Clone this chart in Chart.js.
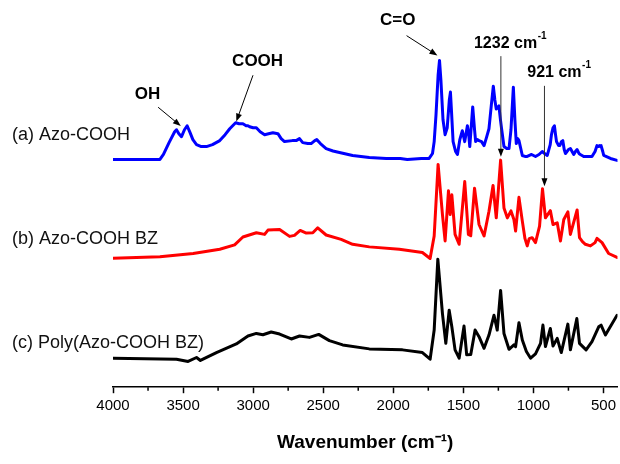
<!DOCTYPE html>
<html>
<head>
<meta charset="utf-8">
<script src="https://cdn.jsdelivr.net/npm/chart.js@4.4.1/dist/chart.umd.min.js"></script>
<style>
  html, body { margin: 0; padding: 0; background: #fff; }
</style>
</head>
<body>
<canvas id="ftir" width="620" height="464"></canvas>
<script>
// x axis ticks (cm-1)
const majorTicks = [4000, 3500, 3000, 2500, 2000, 1500, 1000, 500]
const minorTicks = [3750, 3250, 2750, 2250, 1750, 1250, 750]

// trace labels
const traceNames = ['(a) Azo-COOH', '(b) Azo-COOH BZ', '(c) Poly(Azo-COOH BZ)']

// (a) Azo-COOH, offset intensity (a.u.)
const waveA = [4000, 3800, 3665, 3640, 3600, 3560, 3547, 3530, 3511, 3490, 3471, 3450, 3430, 3404, 3370, 3333, 3290, 3238, 3200, 3167,
  3125, 3100, 3073, 3050, 3037, 3025, 3000, 2977, 2950, 2918, 2890, 2859, 2823, 2800, 2776, 2720, 2693, 2669, 2646, 2610,
  2586, 2560, 2546, 2520, 2479, 2430, 2384, 2290, 2171, 2050, 1950, 1900, 1800, 1744, 1720, 1708, 1695, 1680, 1670, 1660,
  1645, 1630, 1615, 1600, 1592, 1585, 1573, 1555, 1542, 1525, 1507, 1490, 1471, 1462, 1454, 1433, 1420, 1412, 1400, 1388,
  1370, 1352, 1335, 1317, 1300, 1286, 1275, 1265, 1246, 1235, 1227, 1210, 1190, 1174, 1160, 1143, 1132, 1122, 1112, 1103,
  1079, 1060, 1044, 1013, 985, 960, 937, 920, 901, 880, 871, 860, 850, 842, 835, 820, 811, 800, 790, 780,
  771, 750, 736, 720, 712, 700, 688, 675, 665, 641, 582, 560, 546, 537, 529, 522, 517, 505, 498, 450, 403]
const azoA = [230, 230, 230, 235, 247, 258, 260, 256, 253, 260, 264, 257, 250, 245, 243, 243, 245, 249, 255, 261,
  267, 266, 266, 264, 264, 263, 262, 262, 258, 255, 256, 257, 256, 251, 248, 249, 249, 251, 247, 246,
  246, 249, 250, 246, 241, 238.5, 237, 234, 232, 231, 231, 230, 231, 231, 236, 248, 275, 315, 330, 310,
  270, 255, 262, 290, 298, 280, 248, 238, 235, 250, 259, 248, 264, 256, 243, 283, 260, 248, 250, 249,
  248, 244, 252, 261, 285, 304, 290, 281, 284, 270, 261, 243, 241, 241, 260, 303, 270, 246, 251, 249,
  234, 233, 233, 235, 233, 235, 238, 236, 234, 245, 255, 262, 264, 255, 248, 244, 244, 248, 249, 240,
  236, 240, 241, 237, 235, 238, 240, 236, 235, 233, 233, 238, 244, 243, 244, 243, 244, 238, 234, 231, 229]

// (b) Azo-COOH BZ
const waveB = [4000, 3665, 3428, 3238, 3132, 3073, 2977, 2918, 2894, 2811, 2740, 2705, 2664, 2621, 2574, 2539, 2479, 2372, 2290, 2171,
  1957, 1792, 1737, 1708, 1680, 1649, 1630, 1606, 1594, 1582, 1559, 1530, 1490, 1464, 1447, 1420, 1388, 1352, 1317, 1288,
  1265, 1234, 1210, 1186, 1160, 1139, 1127, 1103, 1079, 1060, 1044, 1030, 1009, 985, 956, 935, 914, 879, 860, 830,
  807, 783, 754, 736, 688, 671, 650, 629, 593, 560, 546, 510, 463, 403]
const azoB = [130.3, 131.7, 135, 139.3, 143.7, 151.7, 156, 154.3, 158.7, 159.3, 152.3, 153.3, 158.3, 155.7, 156, 161, 153.7, 149.3, 144.3, 141.7,
  139.3, 136, 130, 152.7, 225, 174.3, 147.7, 198.3, 174.3, 194.3, 154.3, 144.3, 207.7, 154.3, 153, 201, 164.3, 152.7, 177.7, 203.7,
  171, 229.3, 181, 171, 178, 169.3, 157.7, 191.7, 167.7, 150, 142.7, 150, 151, 146, 162.7, 200.3, 171, 178.3, 164.3, 166,
  147.7, 169.3, 177, 154.3, 179, 151, 147, 144.3, 142.7, 146, 150.3, 146, 135, 131]

// (c) Poly(Azo-COOH BZ)
const waveC = [4000, 3547, 3464, 3404, 3376, 3262, 3120, 3037, 2977, 2930, 2871, 2811, 2728, 2669, 2598, 2532, 2456, 2361, 2171, 1934,
  1792, 1737, 1708, 1682, 1649, 1625, 1601, 1582, 1559, 1530, 1495, 1476, 1447, 1416, 1388, 1352, 1317, 1281, 1258, 1234,
  1210, 1174, 1139, 1127, 1103, 1079, 1050, 1020, 985, 949, 932, 914, 879, 860, 830, 801, 754, 736, 690, 671,
  624, 582, 534, 517, 486, 403]
const polyC = [29.3, 28.3, 26, 30, 27, 35, 43.7, 51.7, 54.3, 53, 55.7, 53.7, 48.7, 51.7, 50.3, 53.3, 47, 42.7, 38.7, 37.7,
  35, 28.3, 57.7, 129.3, 74.3, 44.3, 77.7, 61, 37.7, 29.3, 61.7, 32.7, 33, 57.7, 51, 39.3, 52.7, 72.7, 57.7, 97.7,
  54.3, 38.3, 42.7, 41, 65, 47.7, 36, 29.3, 33.7, 44.3, 62.7, 41, 59.3, 41.7, 49.3, 35, 63.7, 37.7, 69.3, 44.3,
  37.7, 46, 61, 62.7, 52.7, 72.7]

const FONT = '"Liberation Sans", Arial, sans-serif'
const toPoints = (w, v) => w.map((x, i) => ({ x, y: v[i] }))

function arrow (ctx, x1, y1, x2, y2) {
  const a = Math.atan2(y2 - y1, x2 - x1)
  const len = 8
  const hw = 3
  ctx.beginPath()
  ctx.moveTo(x1, y1)
  ctx.lineTo(x2 - Math.cos(a) * len * 0.8, y2 - Math.sin(a) * len * 0.8)
  ctx.stroke()
  ctx.beginPath()
  ctx.moveTo(x2, y2)
  ctx.lineTo(x2 - Math.cos(a) * len - Math.sin(a) * hw, y2 - Math.sin(a) * len + Math.cos(a) * hw)
  ctx.lineTo(x2 - Math.cos(a) * len + Math.sin(a) * hw, y2 - Math.sin(a) * len - Math.cos(a) * hw)
  ctx.closePath()
  ctx.fill()
}

// text with a "-1" superscript after it, centred on (cx, cy)
function supText (ctx, main, sup, cx, cy) {
  ctx.font = 'bold 16px ' + FONT
  const w1 = ctx.measureText(main).width
  ctx.font = 'bold 10px ' + FONT
  const w2 = ctx.measureText(sup).width
  const left = cx - (w1 + w2) / 2
  ctx.textAlign = 'left'
  ctx.textBaseline = 'middle'
  ctx.font = 'bold 16px ' + FONT
  ctx.fillText(main, left, cy)
  ctx.font = 'bold 10px ' + FONT
  ctx.fillText(sup, left + w1 + 0.5, cy - 7)
}

const decorations = {
  id: 'decorations',
  afterDraw (chart) {
    const { ctx, scales: { x, y } } = chart
    ctx.save()

    // minor ticks
    ctx.strokeStyle = '#000'
    ctx.lineWidth = 1.5
    minorTicks.forEach(v => {
      const px = x.getPixelForValue(v)
      ctx.beginPath()
      ctx.moveTo(px, x.top)
      ctx.lineTo(px, x.top + 3.5)
      ctx.stroke()
    })

    // trace names
    ctx.fillStyle = '#111'
    ctx.font = '18px ' + FONT
    ctx.textAlign = 'left'
    ctx.textBaseline = 'middle'
    ;[255, 150, 45].forEach((v, i) => ctx.fillText(traceNames[i], 12, y.getPixelForValue(v)))

    // band labels with arrows
    ctx.fillStyle = '#000'
    ctx.strokeStyle = '#000'
    ctx.lineWidth = 1
    const bands = [
      { text: 'OH', at: [3754, 296], from: [3678, 282.7], to: [3516, 263.7] },
      { text: 'COOH', at: [2968, 329.5], from: [3001, 315], to: [3120, 268.3] },
      { text: 'C=O', at: [1968, 370], from: [1905, 355], to: [1685, 335] }
    ]
    bands.forEach(b => {
      ctx.font = 'bold 17px ' + FONT
      ctx.textAlign = 'center'
      ctx.textBaseline = 'middle'
      ctx.fillText(b.text, x.getPixelForValue(b.at[0]), y.getPixelForValue(b.at[1]))
      arrow(ctx, x.getPixelForValue(b.from[0]), y.getPixelForValue(b.from[1]),
        x.getPixelForValue(b.to[0]), y.getPixelForValue(b.to[1]))
    })

    // marked peaks
    ctx.strokeStyle = '#333'
    ctx.fillStyle = '#000'
    const peaks = [
      { main: '1232 cm', at: [1167, 347], top: 334.3, tip: 232.7, wave: 1232 },
      { main: '921 cm', at: [818, 318], top: 304.3, tip: 203, wave: 921 }
    ]
    peaks.forEach(p => {
      supText(ctx, p.main, '-1', x.getPixelForValue(p.at[0]), y.getPixelForValue(p.at[1]))
      const px = x.getPixelForValue(p.wave)
      arrow(ctx, px, y.getPixelForValue(p.top), px, y.getPixelForValue(p.tip))
    })
    ctx.restore()
  }
}

new Chart(document.getElementById('ftir').getContext('2d'), {
  type: 'line',
  data: {
    datasets: [
      { label: traceNames[0], data: toPoints(waveA, azoA), borderColor: '#0000ff', borderWidth: 3 },
      { label: traceNames[1], data: toPoints(waveB, azoB), borderColor: '#ff0000', borderWidth: 3 },
      { label: traceNames[2], data: toPoints(waveC, polyC), borderColor: '#000000', borderWidth: 3 }
    ]
  },
  options: {
    responsive: false,
    animation: false,
    devicePixelRatio: 1,
    layout: { padding: { left: 113, right: 1, top: 0, bottom: 0 } },
    elements: {
      point: { radius: 0 },
      line: { tension: 0, borderJoinStyle: 'round', borderCapStyle: 'round' }
    },
    scales: {
      x: {
        type: 'linear',
        reverse: true,
        min: 400,
        max: 4000,
        afterBuildTicks: s => { s.ticks = majorTicks.map(v => ({ value: v })) },
        border: { display: true, color: '#000', width: 1.5 },
        grid: { drawOnChartArea: false, drawTicks: true, tickLength: 6, tickColor: '#000', tickWidth: 1.5 },
        ticks: {
          autoSkip: false,
          maxRotation: 0,
          padding: 4,
          color: '#000',
          font: { family: FONT, size: 15 },
          callback: v => String(v)
        },
        title: {
          display: true,
          text: 'Wavenumber (cm\u207B\u00B9)',
          color: '#000',
          font: { family: FONT, size: 19, weight: 'bold' },
          padding: { top: 12, bottom: 10 }
        }
      },
      y: { display: false, min: 0, max: 391 }
    },
    plugins: {
      legend: { display: false },
      tooltip: { enabled: false }
    }
  },
  plugins: [decorations]
})
</script>
</body>
</html>
